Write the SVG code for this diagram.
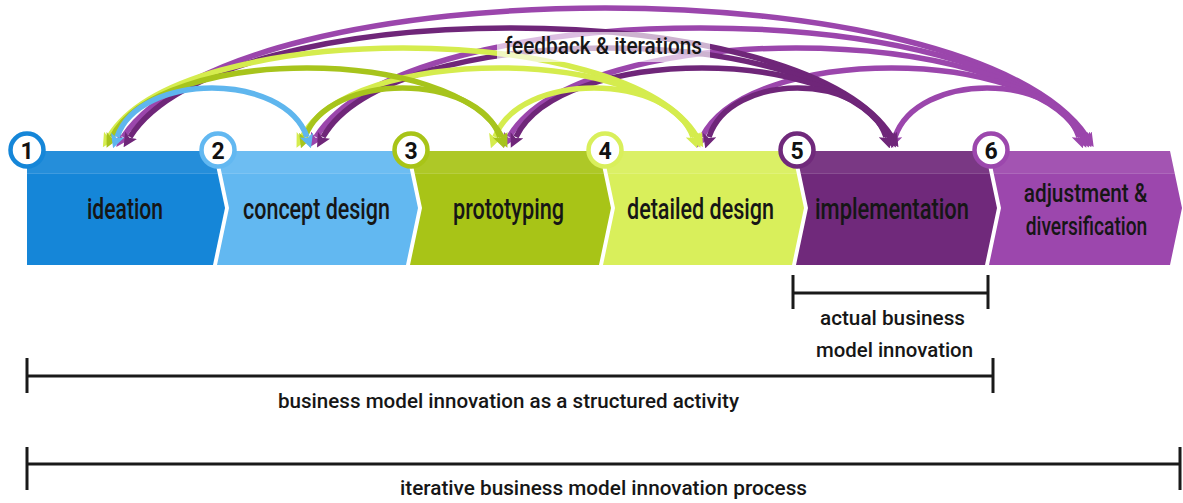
<svg xmlns="http://www.w3.org/2000/svg" width="1183" height="503" viewBox="0 0 1183 503">
<style>
.lbl{font-family:Roboto,"Liberation Sans",sans-serif;font-weight:500;font-size:30px;fill:#161616}
.lbl2{font-family:Roboto,"Liberation Sans",sans-serif;font-weight:500;font-size:26px;fill:#161616;text-anchor:middle}
.num{font-family:Roboto,"Liberation Sans",sans-serif;font-weight:700;font-size:23px;fill:#111;text-anchor:middle}
.cap{font-family:Roboto,"Liberation Sans",sans-serif;font-weight:500;font-size:21px;fill:#161616}
.fb{font-family:Roboto,"Liberation Sans",sans-serif;font-weight:500;font-size:24px;fill:#161616}
.arc{fill:none;stroke-width:5.5;stroke-linecap:butt}
.c2{stroke:#5fb6ee;marker-start:url(#m2);marker-end:url(#m2)}
.c3{stroke:#a7c41c;marker-start:url(#m3);marker-end:url(#m3)}
.c4{stroke:#d5ec4e;marker-start:url(#m4);marker-end:url(#m4)}
.c5{stroke:#6f2679;marker-start:url(#m5);marker-end:url(#m5)}
.c6{stroke:#9b46ac;marker-start:url(#m6);marker-end:url(#m6)}
.brk{stroke:#1a1a1a;stroke-width:3;fill:none}
.circ{fill:#fff;stroke-width:4.5}
</style>
<defs>
<marker id="m2" viewBox="0 0 14 14" markerWidth="14" markerHeight="14" refX="2" refY="7" orient="auto-start-reverse" markerUnits="userSpaceOnUse"><path d="M0,0 L14,7 L0,14 L3,7 Z" fill="#5fb6ee"/></marker>
<marker id="m3" viewBox="0 0 14 14" markerWidth="14" markerHeight="14" refX="2" refY="7" orient="auto-start-reverse" markerUnits="userSpaceOnUse"><path d="M0,0 L14,7 L0,14 L3,7 Z" fill="#a7c41c"/></marker>
<marker id="m4" viewBox="0 0 14 14" markerWidth="14" markerHeight="14" refX="2" refY="7" orient="auto-start-reverse" markerUnits="userSpaceOnUse"><path d="M0,0 L14,7 L0,14 L3,7 Z" fill="#d5ec4e"/></marker>
<marker id="m5" viewBox="0 0 14 14" markerWidth="14" markerHeight="14" refX="2" refY="7" orient="auto-start-reverse" markerUnits="userSpaceOnUse"><path d="M0,0 L14,7 L0,14 L3,7 Z" fill="#6f2679"/></marker>
<marker id="m6" viewBox="0 0 14 14" markerWidth="14" markerHeight="14" refX="2" refY="7" orient="auto-start-reverse" markerUnits="userSpaceOnUse"><path d="M0,0 L14,7 L0,14 L3,7 Z" fill="#9b46ac"/></marker>
<clipPath id="chevClip">
<path d="M27,151 L213,151 L225,208 L213,265 L27,265 Z"/>
<path d="M217,151 L406,151 L418,208 L406,265 L217,265 L229,208 Z"/>
<path d="M410,151 L599,151 L611,208 L599,265 L410,265 L422,208 Z"/>
<path d="M603,151 L792,151 L804,208 L792,265 L603,265 L615,208 Z"/>
<path d="M796,151 L985,151 L997,208 L985,265 L796,265 L808,208 Z"/>
<path d="M989,151 L1170,151 L1182,208 L1170,265 L989,265 L1001,208 Z"/>
</clipPath>
</defs>
<rect width="1183" height="503" fill="#fff"/>

<g id="connectors">
<path class="arc c6" d="M123,137 C238.7,-35 971.3,-35 1087,137"/>
<path class="arc c6" d="M316,137 C408.3,-8.33 992.7,-8.33 1085,137"/>
<path class="arc c6" d="M509,137 C577.9,18.33 1014.1,18.33 1083,137"/>
<path class="arc c6" d="M702,137 C747.5,45 1035.5,45 1081,137"/>
<path class="arc c6" d="M895,137 C917.1,71.67 1056.9,71.67 1079,137"/>
<path class="arc c5" d="M130,137 C221.4,-8.33 800.6,-8.33 892,137"/>
<path class="arc c5" d="M323,137 C391,18.33 822,18.33 890,137"/>
<path class="arc c5" d="M516,137 C560.6,45 843.4,45 888,137"/>
<path class="arc c5" d="M709,137 C730.2,71.67 864.8,71.67 886,137"/>
<path class="arc c4" d="M109,137 C179.6,18.33 626.4,18.33 697,137"/>
<path class="arc c4" d="M302,137 C349.2,45 647.8,45 695,137"/>
<path class="arc c4" d="M495,137 C518.8,71.67 669.2,71.67 693,137"/>
<path class="arc c3" d="M112,137 C158.8,45 455.2,45 502,137"/>
<path class="arc c3" d="M305,137 C328.4,71.67 476.6,71.67 500,137"/>
<path class="arc c2" d="M117,137 C139.8,71.67 284.2,71.67 307,137"/>
</g>

<g id="feedback-label">
<rect x="497" y="32" width="213" height="30" fill="#fff" fill-opacity="0.65"/>
<text class="fb" x="505" y="54" textLength="197" lengthAdjust="spacingAndGlyphs">feedback &amp; iterations</text>
</g>

<g id="stage1">
<path d="M27,151 L213,151 L225,208 L213,265 L27,265 Z" fill="#1586d8"/>
</g>
<g id="stage2">
<path d="M217,151 L406,151 L418,208 L406,265 L217,265 L229,208 Z" fill="#62b8f1"/>
</g>
<g id="stage3">
<path d="M410,151 L599,151 L611,208 L599,265 L410,265 L422,208 Z" fill="#a8c417"/>
</g>
<g id="stage4">
<path d="M603,151 L792,151 L804,208 L792,265 L603,265 L615,208 Z" fill="#d9ef5b"/>
</g>
<g id="stage5">
<path d="M796,151 L985,151 L997,208 L985,265 L796,265 L808,208 Z" fill="#70297b"/>
</g>
<g id="stage6">
<path d="M989,151 L1170,151 L1182,208 L1170,265 L989,265 L1001,208 Z" fill="#9c47ad"/>
</g>
<g id="highlight" clip-path="url(#chevClip)">
<rect x="0" y="151" width="1183" height="22" fill="#fff" fill-opacity="0.07"/>
<line x1="0" y1="173.5" x2="1183" y2="173.5" stroke="#fff" stroke-opacity="0.18" stroke-width="1"/>
</g>

<g id="labels">
<text class="lbl" x="87" y="219" textLength="76" lengthAdjust="spacingAndGlyphs">ideation</text>
<text class="lbl" x="243" y="219" textLength="147" lengthAdjust="spacingAndGlyphs">concept design</text>
<text class="lbl" x="453" y="219" textLength="111" lengthAdjust="spacingAndGlyphs">prototyping</text>
<text class="lbl" x="627" y="219" textLength="147" lengthAdjust="spacingAndGlyphs">detailed design</text>
<text class="lbl" x="815" y="219" textLength="154" lengthAdjust="spacingAndGlyphs">implementation</text>
<text class="lbl2" transform="translate(1085.5,202) scale(0.8,1)">adjustment &amp;</text>
<text class="lbl2" transform="translate(1086.5,235) scale(0.74,1)">diversification</text>
</g>

<g id="numbers">
<circle class="circ" cx="27" cy="150" r="16.5" stroke="#1586d8"/>
<text class="num" x="27" y="158.5">1</text>
<circle class="circ" cx="218" cy="150" r="16.5" stroke="#62b8f1"/>
<text class="num" x="218" y="158.5">2</text>
<circle class="circ" cx="411" cy="150" r="16.5" stroke="#a8c417"/>
<text class="num" x="411" y="158.5">3</text>
<circle class="circ" cx="605" cy="150" r="16.5" stroke="#d9ef5b"/>
<text class="num" x="605" y="158.5">4</text>
<circle class="circ" cx="797" cy="150" r="16.5" stroke="#70297b"/>
<text class="num" x="797" y="158.5">5</text>
<circle class="circ" cx="991" cy="150" r="16.5" stroke="#9c47ad"/>
<text class="num" x="991" y="158.5">6</text>
</g>

<g id="bracket-actual">
<path class="brk" d="M793,275 V309 M988,275 V309 M793,293 H988"/>
<text class="cap" x="820" y="325" textLength="145" lengthAdjust="spacingAndGlyphs">actual business</text>
<text class="cap" x="816" y="357" textLength="157" lengthAdjust="spacingAndGlyphs">model innovation</text>
</g>
<g id="bracket-structured">
<path class="brk" d="M27,358 V393 M993,358 V393 M27,376 H993"/>
<text class="cap" x="278" y="408" textLength="461" lengthAdjust="spacingAndGlyphs">business model innovation as a structured activity</text>
</g>
<g id="bracket-iterative">
<path class="brk" d="M27,447 V490 M1180,447 V490 M27,464 H1180"/>
<text class="cap" x="400" y="495" textLength="407" lengthAdjust="spacingAndGlyphs">iterative business model innovation process</text>
</g>
</svg>
